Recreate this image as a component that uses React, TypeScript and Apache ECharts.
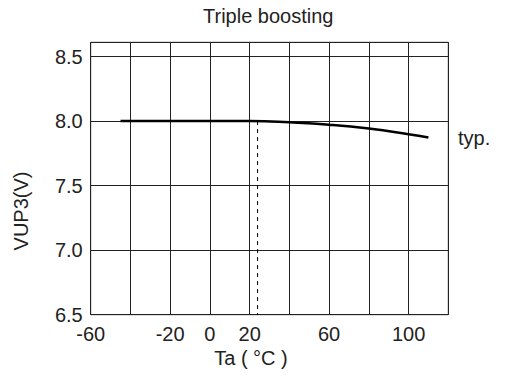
import React, { useEffect, useRef } from "react";
import * as echarts from "echarts";

const temperatures: number[] = [-45, -20, 0, 20, 40, 60, 80, 100, 110];
const vup3Values: number[] = [8.0, 8.0, 8.001, 8.0, 7.99, 7.972, 7.942, 7.898, 7.872];
const shownXLabels: number[] = [-60, -20, 0, 20, 60, 100];
const shownYLabels: number[] = [6.5, 7.0, 7.5, 8.0, 8.5];
const referenceTemp = 24;
const referenceLine: number[][] = [[referenceTemp, 8.0], [referenceTemp, 6.5]];

const FONT = "'Liberation Sans', Arial, Helvetica, sans-serif";

export default function App() {
  const ref = useRef<HTMLDivElement>(null);
  useEffect(() => {
    if (!ref.current) return;
    const chart = echarts.init(ref.current, undefined, { renderer: "svg" });
    const data = temperatures.map((t, i) => [t, vup3Values[i]]);
    chart.setOption({
      animation: false,
      backgroundColor: "#ffffff",
      textStyle: { fontFamily: FONT },
      title: {
        text: "Triple boosting",
        left: 203,
        top: 6,
        padding: 0,
        textStyle: { fontFamily: FONT, fontSize: 20, fontWeight: "normal", color: "#222" },
      },
      grid: {
        left: 90.7,
        right: 57.7,
        top: 42.3,
        bottom: 65.3,
        show: true,
        borderColor: "#444",
        borderWidth: 1,
        containLabel: false,
      },
      xAxis: {
        type: "value",
        min: -60,
        max: 120,
        interval: 20,
        axisLine: { show: false },
        axisTick: { show: false },
        splitLine: { show: true, lineStyle: { color: "#222", width: 1 } },
        axisLabel: {
          margin: 9,
          fontSize: 20,
          color: "#222",
          fontFamily: FONT,
          showMaxLabel: true,
          formatter: (v: number) => (shownXLabels.includes(v) ? String(v) : ""),
        },
      },
      yAxis: {
        type: "value",
        min: 6.5,
        max: 8.61,
        interval: 0.5,
        axisLine: { show: false },
        axisTick: { show: false },
        splitLine: { show: true, lineStyle: { color: "#222", width: 1 } },
        axisLabel: {
          margin: 8,
          fontSize: 20,
          color: "#222",
          fontFamily: FONT,
          formatter: (v: number) => {
            const m = shownYLabels.find((s) => Math.abs(s - v) < 1e-6);
            return m !== undefined ? m.toFixed(1) : "";
          },
        },
      },
      series: [
        {
          type: "line",
          data,
          smooth: true,
          showSymbol: false,
          lineStyle: { color: "#000", width: 2.5 },
          z: 5,
        },
        {
          type: "line",
          data: referenceLine,
          showSymbol: false,
          lineStyle: { color: "#000", width: 1, type: [4, 4] },
          z: 4,
        },
      ],
      graphic: [
        {
          type: "text",
          x: 458,
          y: 138,
          style: {
            text: "typ.",
            fontSize: 20,
            fontFamily: FONT,
            fill: "#222",
            verticalAlign: "middle",
            align: "left",
          },
        },
        {
          type: "text",
          x: 21,
          y: 211,
          rotation: Math.PI / 2,
          style: {
            text: "VUP3(V)",
            fontSize: 20,
            fontFamily: FONT,
            fill: "#222",
            verticalAlign: "middle",
            align: "center",
          },
        },
        {
          type: "text",
          x: 251,
          y: 358,
          style: {
            text: "Ta ( °C )",
            fontSize: 20,
            fontFamily: FONT,
            fill: "#222",
            verticalAlign: "middle",
            align: "center",
          },
        },
      ],
    });
    return () => chart.dispose();
  }, []);
  return (
    <div
      ref={ref}
      style={{ position: "fixed", left: 0, top: 0, width: 506, height: 380, background: "#fff" }}
    />
  );
}
